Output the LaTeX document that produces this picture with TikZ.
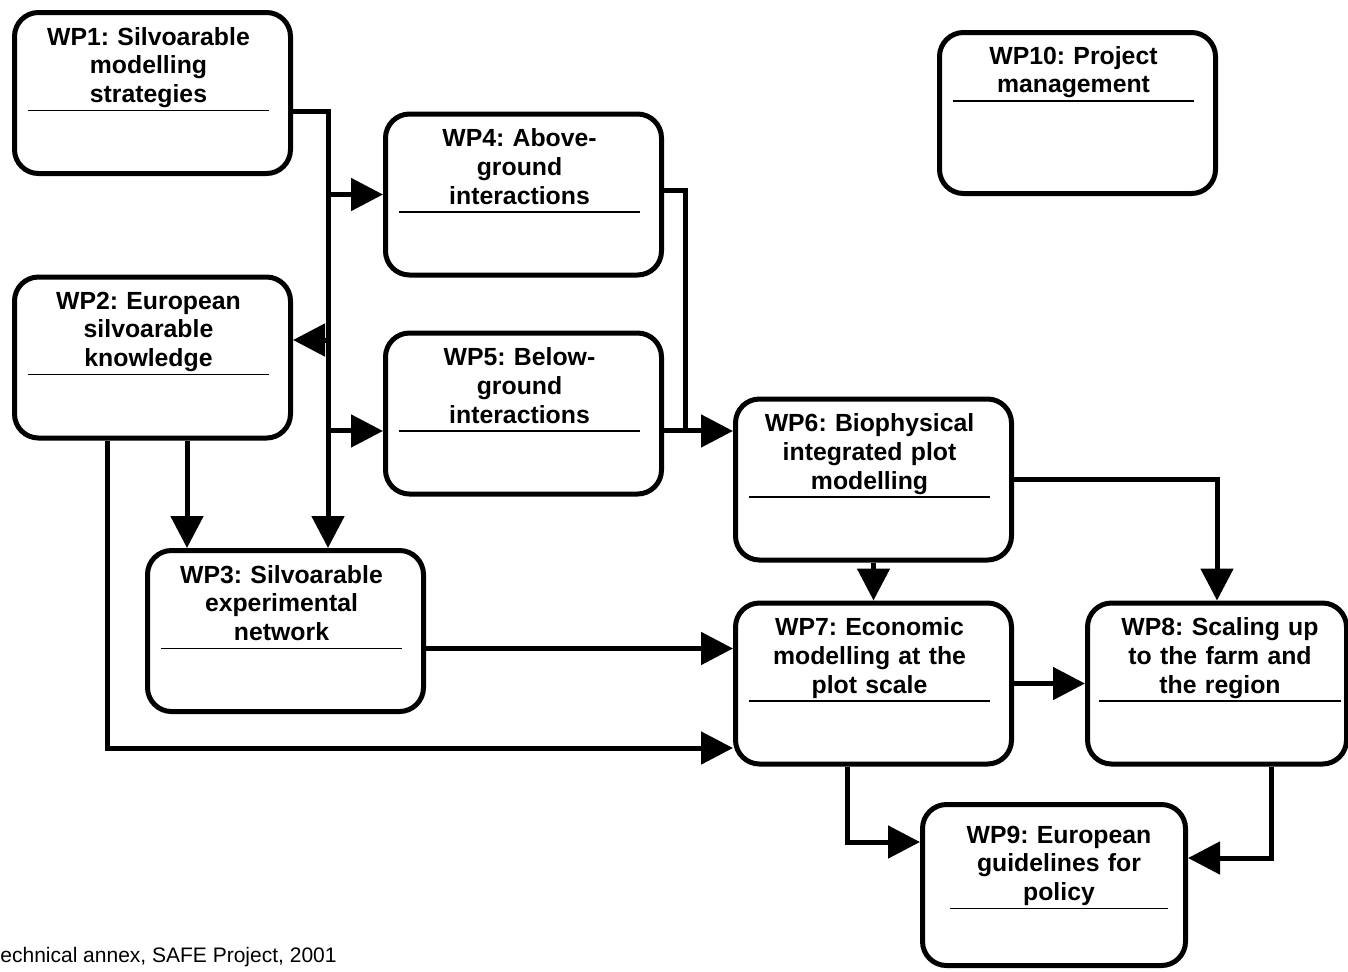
\documentclass[tikz,border=0pt]{standalone}
\usepackage{fontspec}
\setmainfont{Liberation Sans}
\usetikzlibrary{arrows.meta,positioning}
\frenchspacing

\begin{document}
\begin{tikzpicture}[x=0.5pt, y=-0.5pt,
	wp/.style={draw, line width=2.5pt, rounded corners=12pt, minimum width=138pt, minimum height=80.5pt, inner sep=0pt},
	wptitle/.style={font=\bfseries\fontsize{12.4pt}{14.3pt}\selectfont, text width=120.5pt, align=center, inner sep=0pt, xshift=-2pt,
		execute at end node={\rule[-3.75pt]{0pt}{3.75pt}},
		append after command={(\tikzlastnode.south west) edge[line width=0.75pt] (\tikzlastnode.south east)}},
	link/.style={draw, line width=2.5pt},
	arr/.style={draw, line width=2.5pt, -{Triangle[length=16pt, width=16pt]}}]
	\useasboundingbox (0,0) rectangle (1348,971);
	\node[wp] (wp1) at (152.5,93) {};
	\node[wp] (wp2) at (152.5,357.5) {};
	\node[wp] (wp3) at (285.5,631) {};
	\node[wp] (wp4) at (523.5,194.5) {};
	\node[wp] (wp5) at (523.5,413.5) {};
	\node[wp] (wp6) at (873.5,479.5) {};
	\node[wp] (wp7) at (873.5,683.5) {};
	\node[wp, minimum width=129.5pt] (wp8) at (1217,683.5) {};
	\node[wp, minimum width=131.5pt] (wp9) at (1054,885) {};
	\node[wp] (wp10) at (1077.5,113) {};
	\node[wptitle, below=8.5pt of wp1.north] (t1) {WP1: Silvoarable\\modelling\\strategies};
	\node[wptitle, below=8.5pt of wp2.north] (t2) {WP2: European\\silvoarable\\knowledge};
	\node[wptitle, below=8.5pt of wp3.north] (t3) {WP3: Silvoarable\\experimental\\network};
	\node[wptitle, below=8.5pt of wp4.north] (t4) {WP4: Above-\\ground\\interactions};
	\node[wptitle, below=8.5pt of wp5.north] (t5) {WP5: Below-\\ground\\interactions};
	\node[wptitle, below=8.5pt of wp6.north] (t6) {WP6: Biophysical\\integrated plot\\modelling};
	\node[wptitle, below=8.5pt of wp7.north] (t7) {WP7: Economic\\modelling at the\\plot scale};
	\node[wptitle, below=8.5pt of wp8.north, xshift=3.5pt] (t8) {WP8: Scaling up\\to the farm and\\the region};
	\node[wptitle, below=11.75pt of wp9.north, xshift=4.5pt, text width=109pt] (t9) {WP9: European\\guidelines for\\policy};
	\node[wptitle, below=8pt of wp10.north] (t10) {WP10: Project\\management};
	\coordinate (bus) at ([xshift=21.25pt]wp3.north);
	\coordinate (c2) at ([yshift=8.75pt]wp2.east);
	\draw[arr] ([yshift=-9pt]wp1.east) -| (bus);
	\draw[arr] (bus |- wp4.west) -- (wp4.west);
	\draw[arr] (bus |- t5.south) -- (wp5.west |- t5.south);
	\draw[arr] (bus |- c2) -- (c2);
	\draw[arr] ([xshift=17.25pt]wp2.south) coordinate (d2) -- (d2 |- wp3.north);
	\draw[arr] ([xshift=-22.75pt]wp2.south) |- ([yshift=-32.25pt]wp7.west);
	\draw[arr] (wp3.east |- t3.south) -- (wp7.west |- t3.south);
	\draw[link] ([yshift=2.25pt]wp4.east) -| ([xshift=10.75pt]wp5.east |- t5.south);
	\draw[arr] (wp5.east |- t5.south) -- (wp6.west |- t5.south);
	\draw[arr] (wp6.east) -| (wp8.north);
	\draw[arr] (wp6.south) -- (wp7.north);
	\draw[arr] (wp7.east) -- (wp8.west);
	\draw[arr] ([xshift=-13.25pt]wp7.south) |- ([yshift=21.5pt]wp9.west);
	\draw[arr] ([xshift=27pt]wp8.south) |- ([yshift=13.5pt]wp9.east);
	\node[anchor=base west, inner sep=0pt, font=\fontsize{10.5pt}{12pt}\selectfont] (note) at (0,962) {echnical annex, SAFE Project, 2001};
\end{tikzpicture}
\end{document}
